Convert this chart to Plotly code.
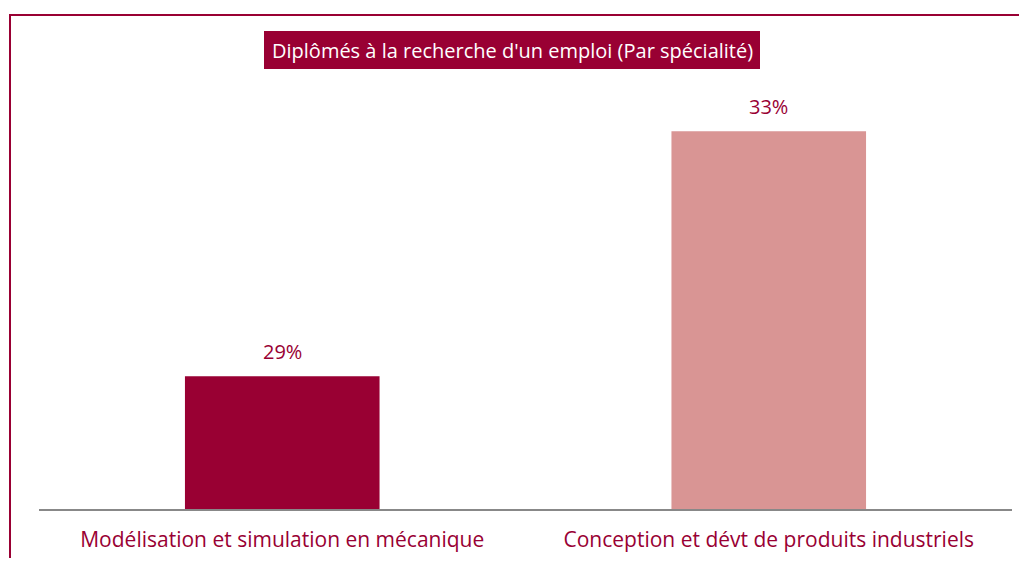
import plotly.graph_objects as go

categories = ["Modélisation et simulation en mécanique", "Conception et dévt de produits industriels"]
values = [29, 33]
bar_colors = ["#990033", "#D99594"]
title_text = "Diplômés à la recherche d'un emploi (Par spécialité)"

DARK = "#990033"
FONT = "Open Sans"

# page body has an 8px margin: work in reference pixel coords and shift by OFF
OFF = 8
W, H = 1027 - OFF, 566 - 2 * OFF
L, R, T = 39 - OFF, 15, 70 - OFF
B = H - (509 - OFF)
pw, ph = W - L - R, H - T - B

def px(x):
    return (x - OFF - L) / pw

def py(y):
    return (H - B - (y - OFF)) / ph

fig = go.Figure()
fig.add_trace(go.Bar(x=categories, y=values, marker=dict(color=bar_colors, line=dict(width=0)),
                     hoverinfo="skip"))

for c, v in zip(categories, values):
    fig.add_annotation(x=c, y=v, text=f"{v}%", showarrow=False, yshift=25,
                       font=dict(family=FONT, size=20, color=DARK), yanchor="middle")

# outer border
fig.add_shape(type="rect", xref="paper", yref="paper", x0=px(10), x1=px(1060), y0=py(600), y1=py(15),
              line=dict(color=DARK, width=2), fillcolor="rgba(0,0,0,0)", layer="below")
# title box
fig.add_shape(type="rect", xref="paper", yref="paper", x0=px(264), x1=px(760), y0=py(69), y1=py(31),
              line=dict(width=0), fillcolor=DARK, layer="below")
fig.add_annotation(xref="paper", yref="paper", x=px(512), y=py(50), text=title_text, showarrow=False,
                   font=dict(family=FONT, size=20, color="white"), xanchor="center", yanchor="middle")

fig.update_layout(
    width=W, height=H,
    margin=dict(l=L, r=R, t=T, b=B, pad=0, autoexpand=False),
    plot_bgcolor="white", paper_bgcolor="white",
    bargap=0.6, showlegend=False,
    font=dict(family=FONT),
)
fig.update_xaxes(showline=True, linecolor="#888888", linewidth=2, showgrid=False, ticks="",
                 tickfont=dict(family=FONT, size=21, color=DARK), ticklabelstandoff=11,
                 automargin=False)
fig.update_yaxes(range=[26.83, 34], visible=False, showgrid=False, automargin=False)

fig.write_html("out.html")
